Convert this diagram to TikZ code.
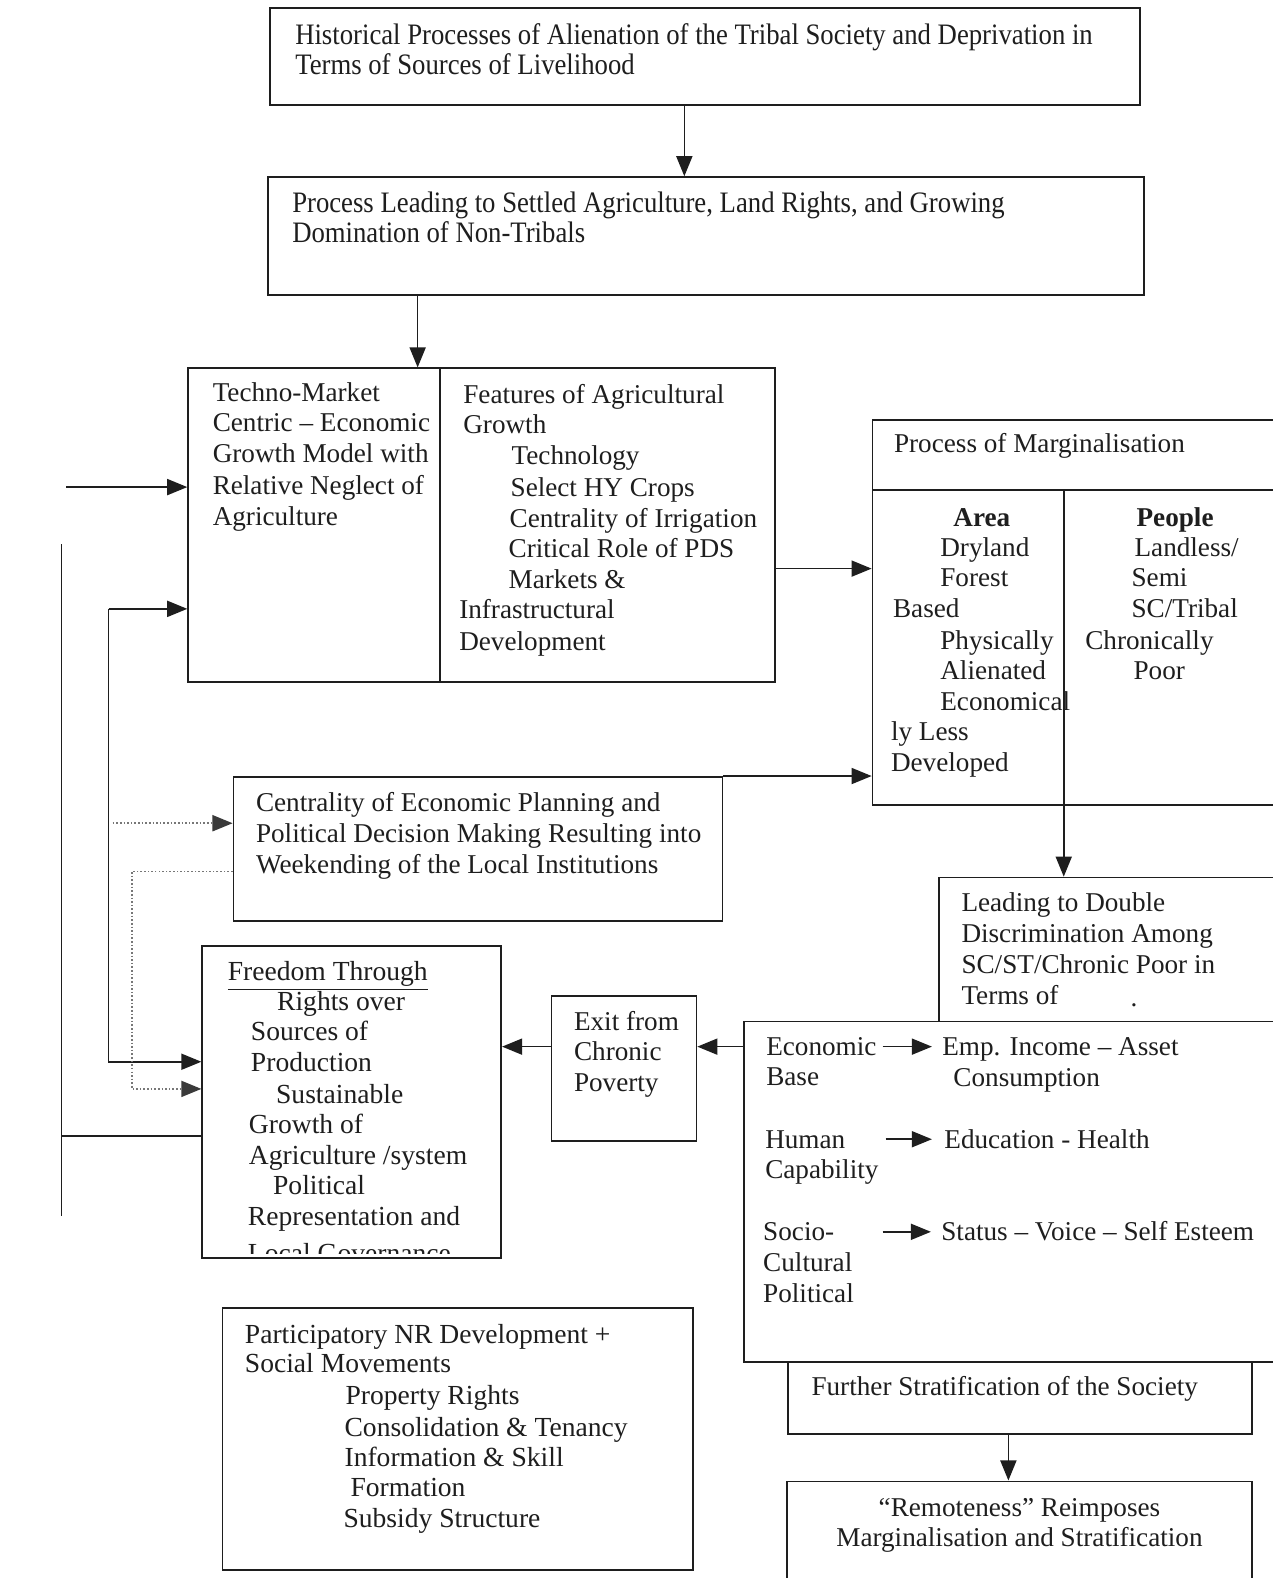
\documentclass[tikz,border=0pt]{standalone}
\usepackage{fontspec}
\setmainfont{Liberation Serif}
\newfontfamily\condfont[FakeStretch=0.9]{Liberation Serif}
\usetikzlibrary{arrows.meta,fit}
\definecolor{ink}{HTML}{1E1E1E}
\definecolor{dotink}{HTML}{777777}
\definecolor{headink}{HTML}{3A3A3A}
\newcommand\putline[4]{\node[txt] (#1) at (#2,#3) {#4};}
\begin{document}
\begin{tikzpicture}[x=0.5pt,y=-0.5pt,
  box/.style={draw=ink, line width=0.9pt, inner sep=0pt},
  txt/.style={anchor=west, inner sep=0pt, text height=10pt, text depth=3pt, text=ink, font=\fontsize{13.5}{15}\selectfont},
  ctxt/.style={txt, font=\fontsize{14.75}{16}\condfont},
  wtxt/.style={txt, font=\fontsize{13.7}{15}\selectfont},
  mtxt/.style={txt, anchor=center},
  arr/.style={draw=ink, line width=0.8pt, -{Triangle[length=10pt,width=8pt]}},
  plain/.style={draw=ink, line width=0.8pt},
  darr/.style={draw=dotink, line width=0.8pt, densely dotted, -{Triangle[length=10pt,width=8pt,color=headink]}}
]
\useasboundingbox[fill=white] (0,0) rectangle (1264,1568);

% ---------------- boxes ----------------
\node[box, fit={(268,8) (1133,104)}] (A) {};
\node[box, fit={(266,176) (1137,293)}] (B) {};
\node[box, fit={(187,366) (770,678)}] (C) {};
\draw[plain] (437,366) -- (437,678);
\node[box, fit={(867,417) (1290,800)}] (G) {};
\draw[plain] (867,487) -- (1290,487);
\draw[plain] (1057,487) -- (1057,800);
\node[box, fit={(232,772) (718,915)}] (D) {};
\node[box, fit={(201,940) (498,1250)}] (E) {};
\node[box, fit={(548,990) (692,1134)}] (F) {};
\node[box, fit={(933,872) (1290,1015)}] (H) {};
\node[box, fit={(739,1015) (1290,1353)}] (I) {};
\node[box, fit={(783,1353) (1244,1425)}] (J) {};
\node[box, fit={(782,1472) (1244,1580)}] (K) {};
\node[box, fit={(221,1300) (689,1560)}] (L) {};

% ---------------- texts ----------------
\node[ctxt] (a1) at (293,37) {Historical Processes of Alienation of the Tribal Society and Deprivation in};
\node[ctxt] (a2) at (293,67) {Terms of Sources of Livelihood};
\node[ctxt] (b1) at (290,204) {Process Leading to Settled Agriculture, Land Rights, and Growing};
\node[ctxt] (b2) at (290,234) {Domination of Non-Tribals};

\putline{c1}{211}{392}{Techno-Market}
\putline{c2}{211}{422}{Centric – Economic}
\putline{c3}{211}{453}{Growth Model with}
\putline{c4}{211}{484}{Relative Neglect of}
\putline{c5}{211}{515}{Agriculture}

\putline{f1}{460}{394}{Features of Agricultural}
\putline{f2}{460}{424}{Growth}
\putline{f3}{508}{455}{Technology}
\putline{f4}{507}{486}{Select HY Crops}
\putline{f5}{506}{517}{Centrality of Irrigation}
\putline{f6}{505}{547}{Critical Role of PDS}
\putline{f7}{505}{578}{Markets \&}
\putline{f8}{456}{608}{Infrastructural}
\putline{f9}{456}{639}{Development}

\putline{g0}{888}{443}{Process of Marginalisation}
\putline{g1}{947}{516}{\textbf{Area}}
\putline{g2}{934}{546}{Dryland}
\putline{g3}{934}{576}{Forest}
\putline{g4}{887}{607}{Based}
\putline{g5}{934}{638}{Physically}
\putline{g6}{934}{668}{Alienated}
\putline{g7}{934}{699}{Economical}
\putline{g8}{885}{729}{ly Less}
\putline{g9}{885}{760}{Developed}
\putline{p1}{1129}{516}{\textbf{People}}
\putline{p2}{1127}{546}{Landless/}
\putline{p3}{1124}{576}{Semi}
\putline{p4}{1124}{607}{SC/Tribal}
\putline{p5}{1078}{638}{Chronically}
\putline{p6}{1126}{668}{Poor}

\putline{d1t}{254}{799}{Centrality of Economic Planning and}
\putline{d2t}{254}{830}{Political Decision Making Resulting into}
\putline{d3t}{254}{861}{Weekending of the Local Institutions}

\node[wtxt] (e1) at (226,967) {\underline{Freedom Through}};
\node[wtxt] (e2) at (275,997) {Rights over};
\node[wtxt] (e3) at (249,1027) {Sources of};
\node[wtxt] (e4) at (249,1058) {Production};
\node[wtxt] (e5) at (274,1089) {Sustainable};
\node[wtxt] (e6) at (247,1119) {Growth of};
\node[wtxt] (e7) at (247,1150) {Agriculture /system};
\node[wtxt] (e8) at (271,1180) {Political};
\node[wtxt] (e9) at (246,1211) {Representation and};
\begin{scope}
  \clip (201,940) rectangle (498,1246);
  \node[wtxt] (e10) at (246,1247) {Local Governance};
\end{scope}

\putline{x1}{570}{1017}{Exit from}
\putline{x2}{570}{1047}{Chronic}
\putline{x3}{570}{1078}{Poverty}

\putline{h1}{955}{899}{Leading to Double}
\putline{h2}{955}{930}{Discrimination Among}
\putline{h3}{955}{960}{SC/ST/Chronic Poor in}
\putline{h4}{955}{991}{Terms of}
\putline{h5}{1123}{993}{.}

\putline{i1}{761}{1042}{Economic}
\putline{i2}{761}{1072}{Base}
\putline{i3}{936}{1042}{Emp. Income – Asset}
\putline{i4}{947}{1073}{Consumption}
\putline{i5}{760}{1134}{Human}
\putline{i6}{760}{1164}{Capability}
\putline{i7}{938}{1134}{Education - Health}
\putline{i8}{758}{1226}{Socio-}
\putline{i9}{758}{1256}{Cultural}
\putline{i10}{758}{1287}{Political}
\putline{i11}{935}{1226}{Status – Voice – Self Esteem}

\putline{j1}{806}{1380}{Further Stratification of the Society}
\node[mtxt] (k1t) at (1013,1500) {“Remoteness” Reimposes};
\node[mtxt] (k2t) at (1013,1530) {Marginalisation and Stratification};

\node[wtxt] (l1) at (243,1328) {Participatory NR Development +};
\node[wtxt] (l2) at (243,1357) {Social Movements};
\node[wtxt] (l3) at (343,1389) {Property Rights};
\node[wtxt] (l4) at (342,1420) {Consolidation \& Tenancy};
\node[wtxt] (l5) at (342,1450) {Information \& Skill};
\node[wtxt] (l6) at (348,1480) {Formation};
\node[wtxt] (l7) at (341,1511) {Subsidy Structure};

% ---------------- connectors ----------------
\coordinate (xab) at (680,0);
\draw[arr] (A.south -| xab) -- (B.north -| xab);
\coordinate (xbc) at (415,0);
\draw[arr] (B.south -| xbc) -- (C.north -| xbc);
\coordinate (ycg) at (0,565);
\draw[arr] (C.east |- ycg) -- (G.west |- ycg);
\draw[arr] (D.north east) -- (G.west |- D.north east);
\coordinate (xgh) at (1057,0);
\draw[arr] (G.south -| xgh) -- (H.north -| xgh);
\coordinate (yif) at (0,1040);
\draw[arr] (I.west |- yif) -- (F.east |- yif);
\draw[arr] (F.west |- yif) -- (E.east |- yif);
\coordinate (xjk) at (1002,0);
\draw[arr] (J.south -| xjk) -- (K.north -| xjk);

% inner arrows of the economic box
\coordinate (s1) at (877,1040); \coordinate (s2) at (880,1132); \coordinate (s3) at (877,1224);
\draw[arr, shorten >=5pt] (s1) -- (i3.west |- s1);
\draw[arr, shorten >=6pt] (s2) -- (i7.west |- s2);
\draw[arr, shorten >=5pt] (s3) -- (i11.west |- s3);

% left-side feedback lines
\coordinate (inC) at (66,484);
\draw[arr] (inC) -- (C.west |- inC);
\coordinate (k1) at (108,605);
\coordinate (k2) at (108,1055);
\draw[arr] (k1) -- (C.west |- k1);
\draw[arr] (k1) -- (k2) -- (E.west |- k2);
\coordinate (v1) at (61,541);
\coordinate (v2) at (61,1208);
\coordinate (v3) at (61,1129);
\draw[plain] (v1) -- (v2);
\draw[plain] (v3) -- (E.west |- v3);

% dotted lines
\coordinate (dd1) at (112,818);
\draw[darr] (dd1) -- (D.west |- dd1);
\coordinate (dd2) at (131,866);
\coordinate (dd3) at (131,1082);
\draw[darr] (D.west |- dd2) -- (dd2) -- (dd3) -- (E.west |- dd3);
\end{tikzpicture}
\end{document}
